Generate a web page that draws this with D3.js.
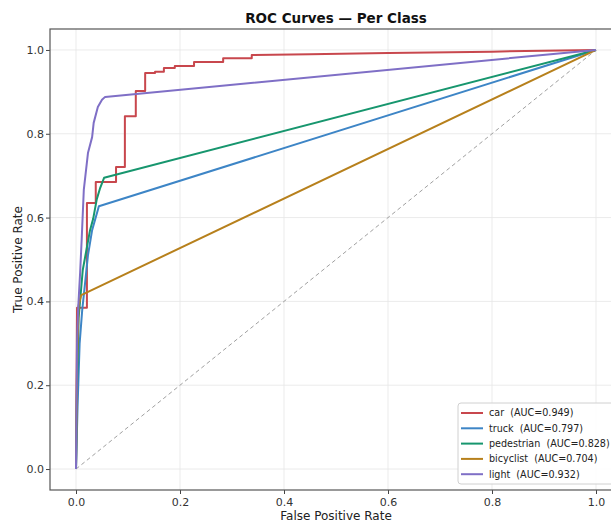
<!DOCTYPE html>
<html>
<head>
<meta charset="utf-8">
<script src="https://cdn.jsdelivr.net/npm/d3@7"></script>
<style>
  html, body { margin: 0; padding: 0; background: #fff; }
  svg { display: block; font-family: "DejaVu Sans", sans-serif; }
  text { white-space: pre; }
</style>
</head>
<body>
<svg id="chart" width="611" height="524"></svg>
<script>
// ---- data ----
const classNames = ["car", "truck", "pedestrian", "bicyclist", "light"];
const aucValues = [0.949, 0.797, 0.828, 0.704, 0.932];
const classColors = ["#c8474d", "#3d85c6", "#17966e", "#b7801c", "#7f6fc6"];

const carFpr = [0, 0.002, 0.021, 0.021, 0.038, 0.038, 0.077, 0.077, 0.094, 0.094, 0.115, 0.115, 0.133, 0.133, 0.152, 0.152, 0.169, 0.169, 0.190, 0.190, 0.227, 0.227, 0.283, 0.283, 0.338, 0.338, 0.45, 0.60, 0.80, 1.0];
const carTpr = [0, 0.385, 0.385, 0.635, 0.635, 0.685, 0.685, 0.721, 0.721, 0.842, 0.842, 0.902, 0.902, 0.945, 0.945, 0.948, 0.948, 0.957, 0.957, 0.962, 0.962, 0.971, 0.971, 0.980, 0.980, 0.988, 0.990, 0.993, 0.996, 1.0];

const truckFpr = [0, 0.003, 0.007, 0.012, 0.018, 0.023, 0.031, 0.044, 1.0];
const truckTpr = [0, 0.15, 0.30, 0.38, 0.45, 0.51, 0.57, 0.627, 1.0];

const pedestrianFpr = [0, 0.002, 0.005, 0.013, 0.027, 0.033, 0.040, 0.046, 0.054, 1.0];
const pedestrianTpr = [0, 0.20, 0.36, 0.475, 0.57, 0.597, 0.644, 0.669, 0.695, 1.0];

const bicyclistFpr = [0, 0.002, 0.005, 0.010, 1.0];
const bicyclistTpr = [0, 0.25, 0.39, 0.415, 1.0];

const lightFpr = [0, 0.002, 0.004, 0.008, 0.011, 0.015, 0.023, 0.031, 0.034, 0.042, 0.050, 0.056, 1.0];
const lightTpr = [0, 0.30, 0.38, 0.47, 0.55, 0.666, 0.754, 0.792, 0.826, 0.864, 0.881, 0.888, 1.0];

const xTicks = [0.0, 0.2, 0.4, 0.6, 0.8, 1.0];
const yTicks = [0.0, 0.2, 0.4, 0.6, 0.8, 1.0];

const series = [
  { fpr: carFpr, tpr: carTpr },
  { fpr: truckFpr, tpr: truckTpr },
  { fpr: pedestrianFpr, tpr: pedestrianTpr },
  { fpr: bicyclistFpr, tpr: bicyclistTpr },
  { fpr: lightFpr, tpr: lightTpr }
];

// ---- layout ----
const svg = d3.select("#chart");
const L = 50, R = 622, T = 29, B = 490;
const x = d3.scaleLinear().domain([-0.05, 1.05]).range([L, R]);
const y = d3.scaleLinear().domain([-0.05, 1.05]).range([B, T]);

svg.append("rect").attr("width", 611).attr("height", 524).attr("fill", "#fff");

// grid
const grid = svg.append("g");
grid.selectAll("line.gx").data(xTicks).enter().append("line")
  .attr("x1", d => x(d)).attr("x2", d => x(d)).attr("y1", T).attr("y2", B)
  .attr("stroke", "#e6e6e6").attr("stroke-width", 0.8);
grid.selectAll("line.gy").data(yTicks).enter().append("line")
  .attr("x1", L).attr("x2", R).attr("y1", d => y(d)).attr("y2", d => y(d))
  .attr("stroke", "#e6e6e6").attr("stroke-width", 0.8);

// axes
const xAxis = svg.append("g").attr("transform", `translate(0,${B})`)
  .call(d3.axisBottom(x).tickValues(xTicks).tickFormat(d3.format(".1f")).tickSize(4).tickSizeOuter(0));
const yAxis = svg.append("g").attr("transform", `translate(${L},0)`)
  .call(d3.axisLeft(y).tickValues(yTicks).tickFormat(d3.format(".1f")).tickSize(4).tickSizeOuter(0));
[xAxis, yAxis].forEach(a => {
  a.select(".domain").remove();
  a.selectAll(".tick line").attr("stroke", "#444").attr("stroke-width", 1);
  a.selectAll(".tick text").attr("fill", "#333").attr("font-size", "11px")
    .attr("font-family", "DejaVu Sans, sans-serif");
});
xAxis.selectAll(".tick text").attr("dy", "0.95em").attr("y", 6);
yAxis.selectAll(".tick text").attr("x", -6);

// clip
svg.append("clipPath").attr("id", "clip").append("rect")
  .attr("x", L).attr("y", T).attr("width", R - L).attr("height", B - T);

// diagonal
svg.append("line")
  .attr("x1", x(0)).attr("y1", y(0)).attr("x2", x(1)).attr("y2", y(1))
  .attr("stroke", "#a0a0a0").attr("stroke-width", 1).attr("stroke-dasharray", "4,3");

// curves
const line = d3.line().x(d => x(d[0])).y(d => y(d[1]));
const curves = svg.append("g").attr("clip-path", "url(#clip)");
series.forEach((s, i) => {
  const pts = s.fpr.map((f, j) => [f, s.tpr[j]]);
  curves.append("path").datum(pts)
    .attr("d", line).attr("fill", "none")
    .attr("stroke", classColors[i]).attr("stroke-width", 2)
    .attr("stroke-linejoin", "round");
});

// frame
svg.append("rect").attr("x", L).attr("y", T).attr("width", R - L).attr("height", B - T)
  .attr("fill", "none").attr("stroke", "#555").attr("stroke-width", 1.2);

// title & labels
svg.append("text").attr("x", (L + R) / 2).attr("y", 23).attr("text-anchor", "middle")
  .attr("font-size", "13.5px").attr("font-weight", "bold").attr("fill", "#111")
  .text("ROC Curves \u2014 Per Class");
svg.append("text").attr("x", (L + R) / 2).attr("y", 520).attr("text-anchor", "middle")
  .attr("font-size", "12px").attr("fill", "#222").text("False Positive Rate");
svg.append("text").attr("transform", `translate(22,${(T + B) / 2}) rotate(-90)`)
  .attr("text-anchor", "middle").attr("font-size", "12px").attr("fill", "#222")
  .text("True Positive Rate");

// legend
const lg = svg.append("g");
lg.append("rect").attr("x", 458).attr("y", 403).attr("width", 165).attr("height", 81)
  .attr("rx", 3).attr("fill", "#fff").attr("fill-opacity", 0.85)
  .attr("stroke", "#d0d0d0").attr("stroke-width", 1);
classNames.forEach((name, i) => {
  const yy = 413 + i * 15.3;
  lg.append("line").attr("x1", 461).attr("x2", 483).attr("y1", yy).attr("y2", yy)
    .attr("stroke", classColors[i]).attr("stroke-width", 2);
  lg.append("text").attr("x", 489).attr("y", yy).attr("dy", "0.35em")
    .attr("font-size", "9.6px").attr("fill", "#222")
    .text(`${name}  (AUC=${aucValues[i].toFixed(3)})`);
});
</script>
</body>
</html>
